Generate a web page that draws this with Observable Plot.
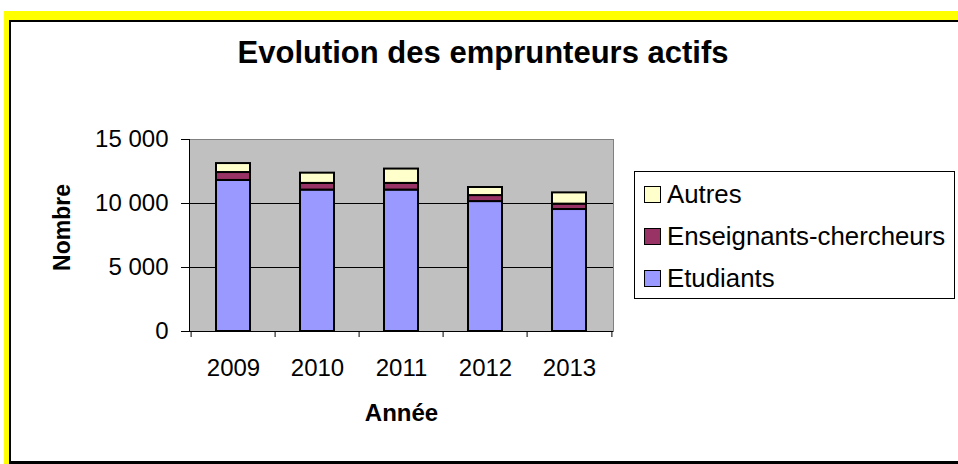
<!DOCTYPE html>
<html>
<head>
<meta charset="utf-8">
<script src="https://cdn.jsdelivr.net/npm/d3@7"></script>
<script src="https://cdn.jsdelivr.net/npm/@observablehq/plot@0.6"></script>
<style>
  html, body { margin: 0; padding: 0; background: #fff; }
  #wrap { position: relative; width: 958px; height: 464px; overflow: hidden; background: #fff;
          font-family: "Liberation Sans", Arial, sans-serif; color: #000; }
  #yellow { position: absolute; left: 4px; top: 11px; right: 0; bottom: 0; background: #ffff00; }
  #frame { position: absolute; left: 9px; top: 20px; width: 1000px; height: 439px; background: #fff;
           border-style: solid; border-color: #000; border-width: 2px 0 3px 2px; }
  #title { position: absolute; left: 0; width: 966px; top: 37px; text-align: center;
           font-size: 31px; line-height: 31px; font-weight: bold; }
  #chart { position: absolute; left: 0; top: 0; }
  #legend { position: absolute; left: 634px; top: 171px; width: 319px; height: 125px;
            border: 1px solid #000; background: #fff; padding-top: 1px; box-sizing: content-box; }
  .row { display: flex; align-items: center; height: 42px; font-size: 25.8px; }
  .sw { width: 15px; height: 15px; border: 1px solid #000; margin-left: 9px; margin-right: 6px; flex: none; }
</style>
</head>
<body>
<div id="wrap">
  <div id="yellow"></div>
  <div id="frame"></div>
  <div id="chart"></div>
  <div id="title">Evolution des emprunteurs actifs</div>
  <div id="legend"></div>
</div>
<script>
const years = ["2009", "2010", "2011", "2012", "2013"];
const seriesNames = ["Etudiants", "Enseignants-chercheurs", "Autres"];
const seriesColors = ["#9999ff", "#993366", "#ffffcc"];
const etudiants = [11800, 11050, 11050, 10150, 9530];
const enseignants = [620, 520, 520, 470, 420];
const autres = [700, 800, 1120, 630, 880];
const yTicks = [0, 5000, 10000, 15000];
const gridTicks = [5000, 10000];
const titleText = "Evolution des emprunteurs actifs";
const xLabel = "Année";
const yLabel = "Nombre";

const seriesValues = [etudiants, enseignants, autres];
const data = [];
seriesNames.forEach((s, i) => {
  years.forEach((y, j) => data.push({year: y, series: s, value: seriesValues[i][j]}));
});

const W = 958, H = 464;
const mL = 189, mR = 345, mT = 139, mB = 133;
const step = (W - mL - mR) / years.length;
const fmt = d => d3.format(",")(d).replace(/,/g, " ");

const chart = Plot.plot({
  width: W, height: H,
  marginLeft: mL, marginRight: mR, marginTop: mT, marginBottom: mB,
  style: "font-family: 'Liberation Sans', Arial, sans-serif; color: #000; background: transparent;",
  x: {domain: years, paddingInner: 0.6, paddingOuter: 0.3},
  y: {domain: [0, 15000]},
  color: {domain: seriesNames, range: seriesColors},
  marks: [
    Plot.frame({fill: "#c0c0c0", stroke: "#808080", strokeWidth: 1}),
    Plot.gridY(gridTicks, {stroke: "#000", strokeOpacity: 1, strokeWidth: 1}),
    Plot.barY(data, {x: "year", y: "value", fill: "series", stroke: "#000", strokeWidth: 2}),
    Plot.frame({anchor: "left", stroke: "#000", strokeWidth: 1}),
    Plot.ruleY([0], {stroke: "#000", strokeWidth: 1}),
    Plot.axisY(yTicks, {tickFormat: fmt, tickSize: 8, tickPadding: 13, fontSize: 24, label: null}),
    Plot.axisX({tickSize: 0, tickPadding: 27, fontSize: 24, label: null}),
    Plot.axisX(years, {tickSize: 6, tickFormat: () => "", dx: -step / 2, label: null}),
    Plot.axisX(years.slice(-1), {tickSize: 6, tickFormat: () => "", dx: step / 2, label: null}),
    Plot.text([yLabel], {frameAnchor: "left", textAnchor: "middle", lineAnchor: "middle", dx: -127, dy: -8, rotate: -90, fontSize: 23, fontWeight: "bold", text: d => d}),
    Plot.text([xLabel], {frameAnchor: "bottom", textAnchor: "middle", lineAnchor: "middle", dy: 82, fontSize: 24, fontWeight: "bold", text: d => d})
  ]
});
document.getElementById("chart").appendChild(chart);
document.getElementById("title").textContent = titleText;

const legend = document.getElementById("legend");
for (let i = seriesNames.length - 1; i >= 0; i--) {
  const row = document.createElement("div");
  row.className = "row";
  const sw = document.createElement("div");
  sw.className = "sw";
  sw.style.background = seriesColors[i];
  const t = document.createElement("span");
  t.textContent = seriesNames[i];
  row.appendChild(sw);
  row.appendChild(t);
  legend.appendChild(row);
}
</script>
</body>
</html>
